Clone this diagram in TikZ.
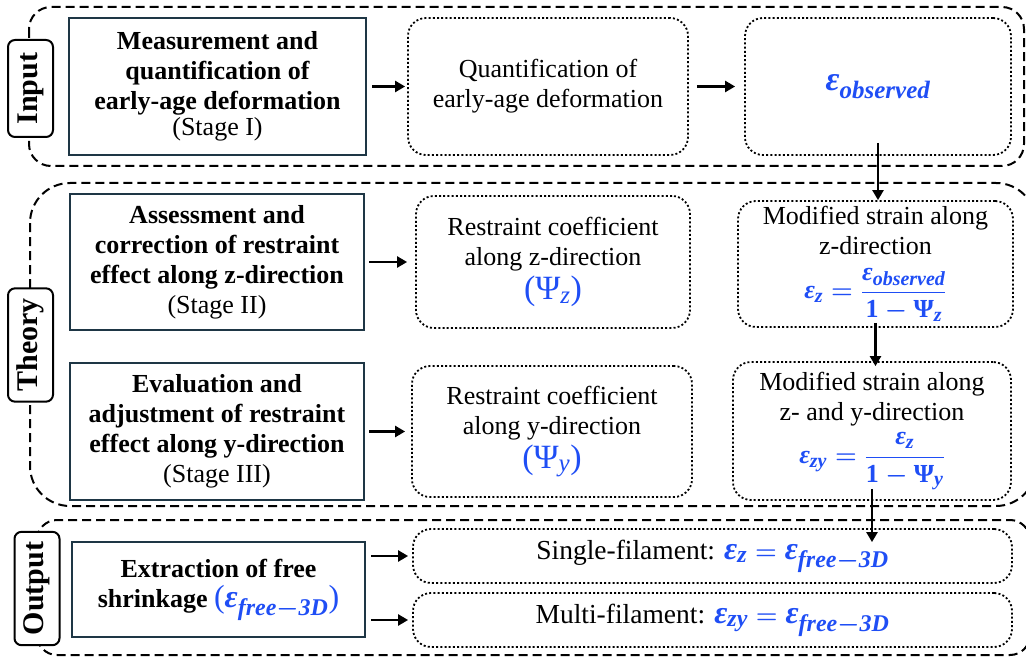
\documentclass[tikz,border=0pt]{standalone}
\usepackage{amsmath}
\usepackage{fontspec}
\setmainfont{Liberation Serif}
\usetikzlibrary{arrows.meta}
\definecolor{eqblue}{HTML}{1F4EF5}
\definecolor{stageline}{HTML}{1E3645}
\DeclareMathSizes{26}{26}{20}{15}
\DeclareMathSizes{30}{30}{22}{17}
\DeclareMathSizes{32}{32}{24}{18}
\DeclareMathSizes{34}{34}{25}{19}
\newcommand{\boldeq}[1]{{\mathversion{bold}\color{eqblue}$#1$}}
\newcommand{\ev}[1]{\text{\bfseries\itshape #1}}
\newcommand{\eb}[1]{\text{\bfseries #1}}

\begin{document}
\begin{tikzpicture}[x=1pt, y=-1pt,
    font=\fontsize{26}{30}\selectfont,
    stage/.style={draw=stageline, line width=2.2pt, align=center, inner sep=2pt, font=\fontsize{26}{30}\selectfont\bfseries},
    result/.style={draw, line width=1.8pt, dash pattern=on 2pt off 2.2pt, rounded corners=18pt, align=center, inner sep=2pt},
    group/.style={draw, line width=2pt, dash pattern=on 9pt off 5pt},
    tag/.style={draw, fill=white, line width=2pt, rounded corners=7pt, rotate=90, minimum height=45pt, inner xsep=10pt, font=\fontsize{30}{34}\selectfont\bfseries},
    arr/.style={-{Triangle[length=10pt,width=11pt]}, line width=2.4pt}]
    \useasboundingbox (0,0) rectangle (1026,658);

    % Dashed groups
    \draw[group, rounded corners=22pt] (29,7) rectangle (1024,166);
    \draw[group, rounded corners=40pt] (30,183) rectangle (1036,506);
    \draw[group, rounded corners=20pt] (37,520) rectangle (1030,655);

    % Group tags
    \node[tag, minimum width=97pt] (input) at (30.5,88.5) {Input};
    \node[tag, minimum width=106pt] (theory) at (30.5,345) {Theory};
    \node[tag, minimum width=113pt] (output) at (37,588.5) {Output};

    % Stage I
    \node[stage, minimum width=297pt, minimum height=137pt] (measure) at (217.5,86.5)
        {Measurement and\\quantification of\\early-age deformation\\[-4pt]{\mdseries (Stage I)}};
    \node[result, minimum width=280pt, minimum height=137pt] (quant) at (548,86.5)
        {Quantification of\\early-age deformation};
    \node[result, minimum width=266pt, minimum height=137pt, font=\fontsize{34}{38}\selectfont] (eps) at (878,86.5)
        {\boldeq{\ev{ε}_{\ev{observed}}}};

    % Stage II
    \node[stage, minimum width=294pt, minimum height=136pt] (assess) at (217,262)
        {Assessment and\\correction of restraint\\effect along z-direction\\{\mdseries (Stage II)}};
    \node[result, minimum width=274pt, minimum height=132pt] (resz) at (553,262)
        {Restraint coefficient\\along z-direction\\[4pt]{\fontsize{34}{36}\selectfont\color{eqblue}(Ψ\textsubscript{\itshape z})}};
    \node[result, minimum width=275pt, minimum height=126pt, inner sep=1pt] (modz) at (875.5,264)
        {Modified strain along\\z-direction\\[12pt]\boldeq{\ev{ε}_{\ev{z}} = \dfrac{\ev{ε}_{\ev{observed}}}{\eb{1}-\eb{Ψ}_{\ev{z}}}}};

    % Stage III
    \node[stage, minimum width=294pt, minimum height=137pt] (evaluate) at (217,431.5)
        {Evaluation and\\adjustment of restraint\\effect along y-direction\\{\mdseries (Stage III)}};
    \node[result, minimum width=280pt, minimum height=131pt] (resy) at (552,431.5)
        {Restraint coefficient\\along y-direction\\[4pt]{\fontsize{34}{36}\selectfont\color{eqblue}(Ψ\textsubscript{\itshape y})}};
    \node[result, minimum width=278pt, minimum height=138pt] (mody) at (872,431)
        {Modified strain along\\z- and y-direction\\[6pt]\boldeq{\ev{ε}_{\ev{zy}} = \dfrac{\ev{ε}_{\ev{z}}}{\eb{1}-\eb{Ψ}_{\ev{y}}}}};

    % Output
    \node[stage, minimum width=293pt, minimum height=95pt] (extract) at (218.5,589.5)
        {Extraction of free\\shrinkage {\fontsize{32}{34}\selectfont\mdseries\color{eqblue}(\boldeq{\ev{ε}_{\ev{free}-\ev{3D}}})}};
    \node[result, minimum width=599pt, minimum height=54pt, font=\fontsize{27.5}{30}\selectfont] (single) at (712.5,556)
        {Single-filament: {\fontsize{32}{34}\selectfont\boldeq{\ev{ε}_{\ev{z}} = \ev{ε}_{\ev{free}-\ev{3D}}}}};
    \node[result, minimum width=599pt, minimum height=54pt, font=\fontsize{27.5}{30}\selectfont] (multi) at (712.5,620)
        {Multi-filament: {\fontsize{32}{34}\selectfont\boldeq{\ev{ε}_{\ev{zy}} = \ev{ε}_{\ev{free}-\ev{3D}}}}};

    % Arrows
    \draw[arr, shorten <=5pt, shorten >=2pt] (measure.east) -- (quant.west);
    \draw[arr, shorten <=8pt, shorten >=9pt] (quant.east) -- (eps.west);
    \draw[arr, shorten <=4pt, shorten >=8pt] (assess.east) -- (resz.west);
    \draw[arr, shorten <=4pt, shorten >=6pt] (evaluate.east) -- (resy.west);
    \draw[arr] ([yshift=13pt]eps.south) -- (eps.south |- modz.north);
    \draw[arr, shorten >=-5pt] ([yshift=5pt]modz.south) -- (modz.south |- mody.north);
    \draw[arr, shorten >=-14pt] ([yshift=12pt]mody.south) -- (mody.south |- single.north);
    \draw[arr, shorten <=5pt, shorten >=4pt] (extract.east |- single.west) -- (single.west);
    \draw[arr, shorten <=5pt, shorten >=4pt] (extract.east |- multi.west) -- (multi.west);
\end{tikzpicture}
\end{document}
